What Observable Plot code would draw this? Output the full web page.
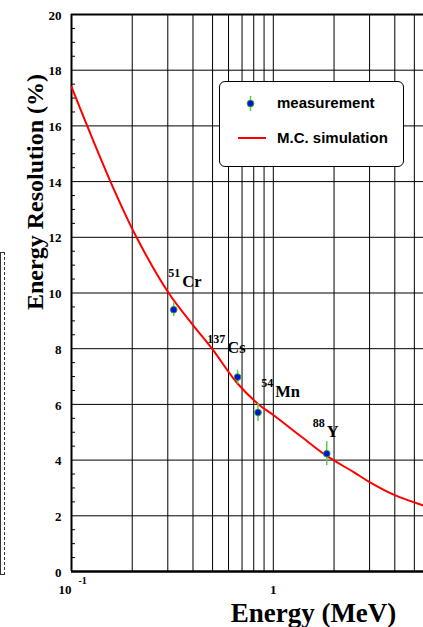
<!DOCTYPE html>
<html><head><meta charset="utf-8">
<script src="https://cdn.jsdelivr.net/npm/d3@7"></script>
<script src="https://cdn.jsdelivr.net/npm/@observablehq/plot@0.6"></script>
<style>
body{margin:0;background:#fff;overflow:hidden}
#wrap{position:relative;width:423px;height:627px;overflow:hidden}
#legend{position:absolute;left:219px;top:81px;width:183px;height:84px;border:1px solid #000;border-radius:6px;background:#fff;font-family:"Liberation Sans",Arial,sans-serif;font-weight:bold;font-size:15px;color:#000}
#legend .row{position:absolute;left:57px;white-space:nowrap}
#legend svg{position:absolute;left:0;top:0}
#strip{position:absolute;left:0;top:252px;width:3px;height:321px;border:1px dashed #333;border-left-style:solid}
</style></head><body><div id="wrap"><div id="strip"></div></div>
<script>
// ---- data ----
const isotopeMass = ["51", "137", "54", "88"];
const isotopeSymbol = ["Cr", "Cs", "Mn", "Y"];
const measEnergy = [0.321, 0.665, 0.84, 1.84];          // MeV
const measResolution = [9.40, 6.98, 5.71, 4.23];        // %
const measError = [0.25, 0.25, 0.32, 0.43];
const labelEnergy = [0.354, 0.592, 1.023, 1.84];
const labelResolution = [10.23, 7.85, 6.28, 4.84];
const simEnergy = [0.1, 0.156, 0.21, 0.303, 0.4, 0.497, 0.665, 0.846, 1.0, 1.4, 1.84, 2.5, 3.0, 4.0, 5.55];
const simResolution = [17.4, 14.0, 12.0, 10.0, 8.85, 8.0, 6.75, 6.0, 5.62, 4.8, 4.15, 3.57, 3.21, 2.74, 2.37];
const yTicks = [0, 2, 4, 6, 8, 10, 12, 14, 16, 18, 20];
const yMinor = d3.range(0, 20.01, 0.5).filter(v => v % 2 !== 0);
const xGrid = [0.2, 0.3, 0.4, 0.5, 0.6, 0.7, 0.8, 0.9, 1, 2, 3, 4, 5];
const xTickValues = [0.1, 1];
const xTickBase = ["10", "1"];
const xTickExp = ["-1", ""];
const legendLabels = ["measurement", "M.C. simulation"];

const meas = measEnergy.map((e, i) => ({e, r: measResolution[i], err: measError[i]}));
const sim = simEnergy.map((e, i) => ({e, r: simResolution[i]}));
const labels = labelEnergy.map((e, i) => ({e, r: labelResolution[i], mass: isotopeMass[i], sym: isotopeSymbol[i]}));
const xticks = xTickValues.map((v, i) => ({v, base: xTickBase[i], exp: xTickExp[i]}));

const W = 423, H = 627, ML = 71, MR = 0, MT = 14, MB = 56;
const bold = {fontWeight: "bold", fill: "#000"};

const chart = Plot.plot({
  width: W, height: H, marginLeft: ML, marginRight: MR, marginTop: MT, marginBottom: MB,
  x: {type: "log", domain: [0.1, 5.55], axis: null},
  y: {domain: [0, 20], axis: null},
  style: {background: "transparent", fontFamily: "'Liberation Serif', 'Times New Roman', serif", overflow: "visible"},
  marks: [
    Plot.ruleX(xGrid, {stroke: "#000", strokeWidth: 1}),
    Plot.ruleY(yTicks.filter(v => v > 0 && v < 20), {stroke: "#000", strokeWidth: 1}),
    Plot.tickY(yMinor, {y: d => d, insetRight: W - ML - MR - 4, stroke: "#000", strokeWidth: 1}),
    Plot.ruleY([20], {stroke: "#000", strokeWidth: 2}),
    Plot.ruleX([0.1], {stroke: "#000", strokeWidth: 2}),
    Plot.ruleY([0], {stroke: "#000", strokeWidth: 2.5}),
    Plot.line(sim, {x: "e", y: "r", stroke: "#ff0000", strokeWidth: 2, curve: "catmull-rom"}),
    Plot.ruleX(meas, {x: "e", y1: d => d.r - d.err, y2: d => d.r + d.err, stroke: "#55cc55", strokeWidth: 1.5}),
    Plot.dot(meas, {x: "e", y: "r", r: 3.3, fill: "#0010e0", stroke: "#2a9a2a", strokeWidth: 1}),
    Plot.text(labels, {x: "e", y: "r", text: "sym", textAnchor: "start", lineAnchor: "bottom", fontSize: 16.5, ...bold}),
    Plot.text(labels, {x: "e", y: "r", text: "mass", textAnchor: "end", lineAnchor: "bottom", dx: -2, dy: -10, fontSize: 12, ...bold}),
    // y tick labels
    Plot.text(yTicks, {y: d => d, frameAnchor: "left", text: d => String(d), textAnchor: "end", dx: -10, dy: 1, fontSize: 13, ...bold}),
    // x tick labels
    Plot.text(xticks.filter(d => d.exp), {x: "v", text: "base", frameAnchor: "bottom", textAnchor: "end", lineAnchor: "bottom", dy: 22, fontSize: 13, ...bold}),
    Plot.text(xticks.filter(d => d.exp), {x: "v", text: "exp", frameAnchor: "bottom", textAnchor: "start", lineAnchor: "bottom", dx: 7, dy: 12, fontSize: 10, ...bold}),
    Plot.text(xticks.filter(d => !d.exp), {x: "v", text: "base", frameAnchor: "bottom", textAnchor: "middle", lineAnchor: "bottom", dy: 22, fontSize: 13, ...bold}),
    // axis titles
    Plot.text(["Energy (MeV)"], {frameAnchor: "bottom", text: d => d, textAnchor: "middle", lineAnchor: "bottom", dx: 66, dy: 50, fontSize: 27, ...bold}),
    Plot.text(["Energy Resolution (%)"], {frameAnchor: "left", text: d => d, rotate: -90, textAnchor: "middle", lineAnchor: "bottom", dx: -29, dy: -101, fontSize: 24, ...bold})
  ]
});
const wrap = document.getElementById("wrap");
wrap.insertBefore(chart, wrap.firstChild);
chart.style.position = "absolute"; chart.style.left = "0"; chart.style.top = "0";

// legend (inside the plot area)
const legend = document.createElement("div");
legend.id = "legend";
legend.innerHTML = `
<svg width="183" height="84">
  <line x1="30.5" x2="30.5" y1="14" y2="29" stroke="#55cc55" stroke-width="1.5"/>
  <circle cx="30.5" cy="21.5" r="3.3" fill="#0010e0" stroke="#2a9a2a" stroke-width="1"/>
  <line x1="18" x2="46" y1="56" y2="56" stroke="#ff0000" stroke-width="2"/>
</svg>
<div class="row" style="top:12px">${legendLabels[0]}</div>
<div class="row" style="top:47px">${legendLabels[1]}</div>`;
wrap.appendChild(legend);
</script></body></html>
